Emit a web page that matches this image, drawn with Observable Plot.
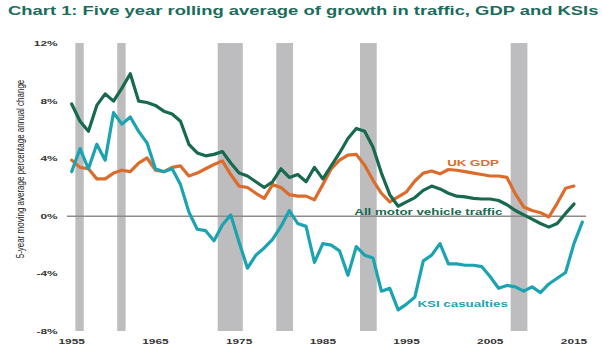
<!DOCTYPE html>
<html><head><meta charset="utf-8">
<script src="https://cdn.jsdelivr.net/npm/d3@7"></script>
<script src="https://cdn.jsdelivr.net/npm/@observablehq/plot@0.6"></script>
<style>
body{margin:0;background:#fff;font-family:"Liberation Sans",Arial,sans-serif;}
#title{height:26px;padding-left:8px;white-space:nowrap;overflow:visible;}
#title span{display:inline-block;font-weight:bold;font-size:13px;color:#1b6c5a;line-height:22px;transform-origin:0 50%;}
#chart svg{display:block;}
</style></head><body>
<div id="title"><span>Chart 1: Five year rolling average of growth in traffic, GDP and KSIs</span></div>
<div id="chart"></div>
<script>
const years = [1955,1956,1957,1958,1959,1960,1961,1962,1963,1964,1965,1966,1967,1968,1969,1970,1971,1972,1973,1974,1975,1976,1977,1978,1979,1980,1981,1982,1983,1984,1985,1986,1987,1988,1989,1990,1991,1992,1993,1994,1995,1996,1997,1998,1999,2000,2001,2002,2003,2004,2005,2006,2007,2008,2009,2010,2011,2012,2013,2014,2015,2016];

const traffic = [7.8,6.6,5.9,7.7,8.5,8.0,8.9,9.9,8.0,7.9,7.7,7.3,7.1,6.6,5.0,4.4,4.2,4.3,4.5,3.7,3.0,2.8,2.4,2.0,2.4,3.3,2.7,2.9,2.4,3.4,2.6,3.5,4.4,5.4,6.1,5.9,4.8,3.0,1.5,0.7,1.0,1.3,1.8,2.1,1.9,1.6,1.4,1.35,1.25,1.2,1.2,1.1,0.8,0.4,0.1,-0.2,-0.5,-0.75,-0.5,0.2,0.85];

const gdp = [3.9,3.4,3.3,2.6,2.6,3.0,3.2,3.1,3.7,4.05,3.2,3.1,3.4,3.5,2.8,3.0,3.3,3.6,3.85,2.9,2.1,2.0,1.6,1.25,2.2,2.0,1.5,1.4,1.4,1.15,2.2,3.3,3.9,4.25,4.3,3.55,2.5,1.6,1.0,1.35,1.7,2.45,3.0,3.15,2.95,3.25,3.2,3.1,3.0,2.9,2.8,2.8,2.7,1.55,0.65,0.4,0.25,-0.05,0.9,1.95,2.1];

const ksi = [3.1,4.7,3.3,5.0,3.9,7.2,6.4,6.9,5.9,5.1,3.3,3.1,3.3,2.2,0.3,-0.9,-1.0,-1.7,-0.6,0.1,-1.8,-3.6,-2.7,-2.2,-1.6,-0.7,0.4,-0.5,-0.7,-3.2,-1.9,-2.0,-2.4,-4.1,-2.1,-2.7,-2.9,-5.2,-5.0,-6.5,-6.1,-5.6,-3.1,-2.7,-1.9,-3.3,-3.3,-3.4,-3.4,-3.5,-4.2,-5.0,-4.8,-4.9,-5.2,-4.9,-5.3,-4.7,-4.3,-3.9,-1.9,-0.4];

const recessionStart = [1956,1961,1973,1980,1990,2008];
const recessionEnd   = [1956,1961,1975,1981,1991,2009];

const xTicks = [1955,1965,1975,1985,1995,2005,2015];
const yTicks = [-8,-4,0,4,8,12];

const seriesNames = ["UK GDP","All motor vehicle traffic","KSI casualties"];
const seriesColors = ["#dc6c2b","#17694f","#1ca3b1"];
const labelYear = [2002.95,1997.6,2001.7];
const labelValue = [3.7,0.3,-6.1];
const yLabel = "5-year moving average percentage annual change";

const rows = (vals) => vals.map((v,i) => ({year: years[i], value: v}));
const recessions = recessionStart.map((s,i) => ({start: s, end: recessionEnd[i]}));
const labels = seriesNames.map((n,i) => ({text: n, year: labelYear[i], value: labelValue[i], color: seriesColors[i]}));

const plot = Plot.plot({
  width: 602, height: 328,
  marginTop: 17, marginBottom: 23, marginLeft: 67, marginRight: 16,
  style: {fontFamily: "Liberation Sans, Arial, sans-serif", fontSize: "8px", color: "#333", background: "#fff", overflow: "visible"},
  x: {domain: [1954.5, 2016.5], ticks: xTicks, tickFormat: d => String(d), tickSize: 0, tickPadding: 7, label: null},
  y: {domain: [-8, 12], ticks: yTicks, tickFormat: d => d + "%", tickSize: 0, tickPadding: 10, label: null},
  marks: [
    Plot.rect(recessions, {x1: d => d.start - 0.5, x2: d => d.end + 0.5, fill: "#bdbdbf"}),
    Plot.ruleY([0], {stroke: "#8c8c8c", strokeWidth: 1.5}),
    Plot.line(rows(gdp), {x: "year", y: "value", stroke: seriesColors[0], strokeWidth: 3.2, strokeLinejoin: "round"}),
    Plot.line(rows(traffic), {x: "year", y: "value", stroke: seriesColors[1], strokeWidth: 3.2, strokeLinejoin: "round"}),
    Plot.line(rows(ksi), {x: "year", y: "value", stroke: seriesColors[2], strokeWidth: 3.2, strokeLinejoin: "round"}),
    Plot.text(labels, {x: "year", y: "value", text: "text", fill: "color", fontSize: 9, fontWeight: "bold", className: "serieslabel"}),
    Plot.text([yLabel], {frameAnchor: "left", textAnchor: "middle", rotate: -90, dx: -47, dy: -18.5, fontSize: 8, fill: "#222", className: "ylab"}),
    Plot.axisX({ticks: xTicks, tickFormat: d => String(d), tickSize: 0, tickPadding: 7, fontWeight: "bold", fill: "#333", className: "xax"}),
    Plot.axisY({ticks: yTicks, tickFormat: d => d + "%", tickSize: 0, tickPadding: 10, fontWeight: "bold", fill: "#333", className: "yax"})
  ]
});
document.getElementById("chart").append(plot);

// the reference is horizontally stretched: widen glyphs accordingly
const K = 1.48;
plot.querySelectorAll("text").forEach(t => {
  if (t.closest(".ylab")) return;
  const L = t.getComputedTextLength();
  if (L > 0) { t.setAttribute("textLength", L * K); t.setAttribute("lengthAdjust", "spacingAndGlyphs"); }
});
plot.querySelectorAll(".ylab text").forEach(t => {
  const tr = t.getAttribute("transform") || "";
  t.setAttribute("transform", tr + " scale(1,1.45)");
});
const span = document.querySelector("#title span");
span.style.transform = "scaleX(" + (590 / span.offsetWidth) + ")";
</script>
</body></html>
